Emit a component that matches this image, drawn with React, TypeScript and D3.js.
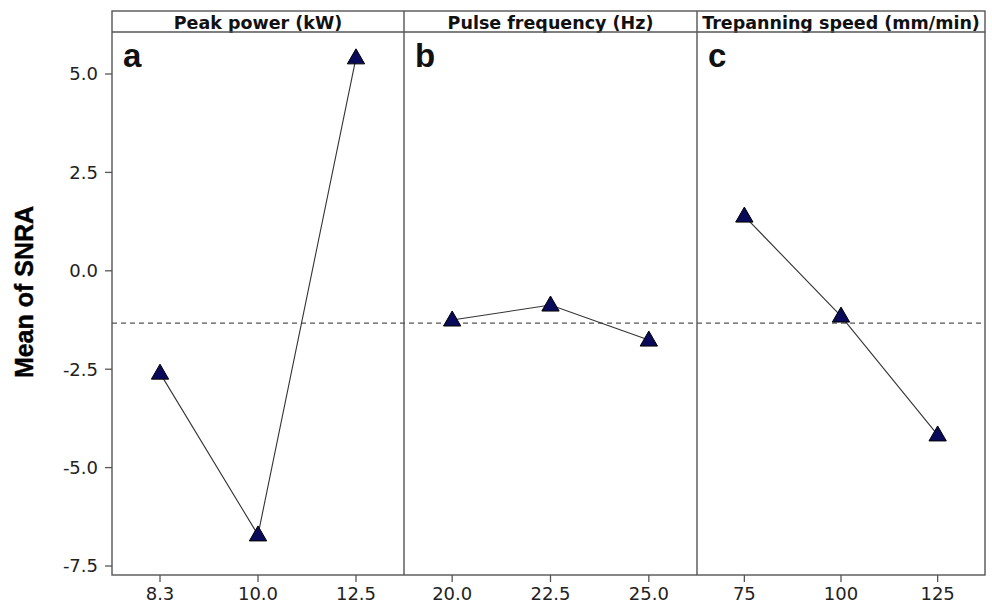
import React from "react";
import * as d3 from "d3";

const panelTitles = ["Peak power (kW)", "Pulse frequency (Hz)", "Trepanning speed (mm/min)"];
const panelLetters = ["a", "b", "c"];
const levelsA = ["8.3", "10.0", "12.5"];
const levelsB = ["20.0", "22.5", "25.0"];
const levelsC = ["75", "100", "125"];
const valuesA = [-2.6, -6.71, 5.41];
const valuesB = [-1.25, -0.87, -1.76];
const valuesC = [1.39, -1.15, -4.17];
const yTicks = [5.0, 2.5, 0.0, -2.5, -5.0, -7.5];
const overallMean = -1.33;

const levels = [levelsA, levelsB, levelsC];
const values = [valuesA, valuesB, valuesC];

export default function App() {
  const W = 992, H = 606;
  const left = 112, right = 985, top = 11, headerBottom = 32, bottom = 575;
  const dividers = [left, 404, 697, right];
  const y = d3.scaleLinear().domain([-7.5, 5.0]).range([566, 74]);
  const font = "DejaVu Sans, Verdana, sans-serif";
  const tri = d3.symbol().type(d3.symbolTriangle).size(130);

  return (
    <svg width={W} height={H} style={{ position: "absolute", left: 0, top: 0, background: "#fff" }}>
      <rect x={0} y={0} width={W} height={H} fill="#fff" />
      {yTicks.map((t) => (
        <g key={t}>
          <line x1={left - 7} x2={left} y1={y(t)} y2={y(t)} stroke="#555" strokeWidth={1.3} />
          <text x={left - 14} y={y(t)} dy="0.36em" textAnchor="end" fontFamily={font} fontSize={18} fill="#222">
            {t.toFixed(1)}
          </text>
        </g>
      ))}
      <text
        transform={`translate(33, 292) rotate(-90)`}
        textAnchor="middle"
        fontFamily="Liberation Sans, Arial, sans-serif"
        fontWeight="bold"
        fontSize={25}
        fill="#000"
        stroke="#000"
        strokeWidth={0.4}
      >
        Mean of SNRA
      </text>
      <line x1={left} x2={right} y1={y(overallMean)} y2={y(overallMean)} stroke="#555" strokeWidth={1.2} strokeDasharray="5,4" />
      {levels.map((lv, i) => {
        const x0 = dividers[i], x1 = dividers[i + 1];
        const x = d3.scalePoint<string>().domain(lv).range([x0, x1]).padding(0.49);
        const line = d3.line<number>().x((_, j) => x(lv[j]) as number).y((v) => y(v));
        return (
          <g key={i}>
            <text x={(x0 + x1) / 2} y={29} textAnchor="middle" fontFamily={font} fontWeight="bold" fontSize={17.5} fill="#111">
              {panelTitles[i]}
            </text>
            <text x={x0 + 11} y={67} fontFamily="Liberation Sans, Arial, sans-serif" fontWeight="bold" fontSize={33} fill="#111">
              {panelLetters[i]}
            </text>
            <path d={line(values[i]) || ""} fill="none" stroke="#333" strokeWidth={1.1} />
            {values[i].map((v, j) => (
              <path key={j} d={tri() || ""} transform={`translate(${x(lv[j])}, ${y(v) + 1})`} fill="#0a0a5a" stroke="#000" strokeWidth={1} />
            ))}
            {lv.map((l) => (
              <g key={l}>
                <line x1={x(l)} x2={x(l)} y1={bottom} y2={bottom + 7} stroke="#555" strokeWidth={1.3} />
                <text x={x(l)} y={600} textAnchor="middle" fontFamily={font} fontSize={18} fill="#222">
                  {l}
                </text>
              </g>
            ))}
          </g>
        );
      })}
      <rect x={left} y={top} width={right - left} height={bottom - top} fill="none" stroke="#555" strokeWidth={1.4} />
      <line x1={left} x2={right} y1={headerBottom} y2={headerBottom} stroke="#555" strokeWidth={1.4} />
      {dividers.slice(1, 3).map((d) => (
        <line key={d} x1={d} x2={d} y1={top} y2={bottom} stroke="#555" strokeWidth={1.4} />
      ))}
    </svg>
  );
}
